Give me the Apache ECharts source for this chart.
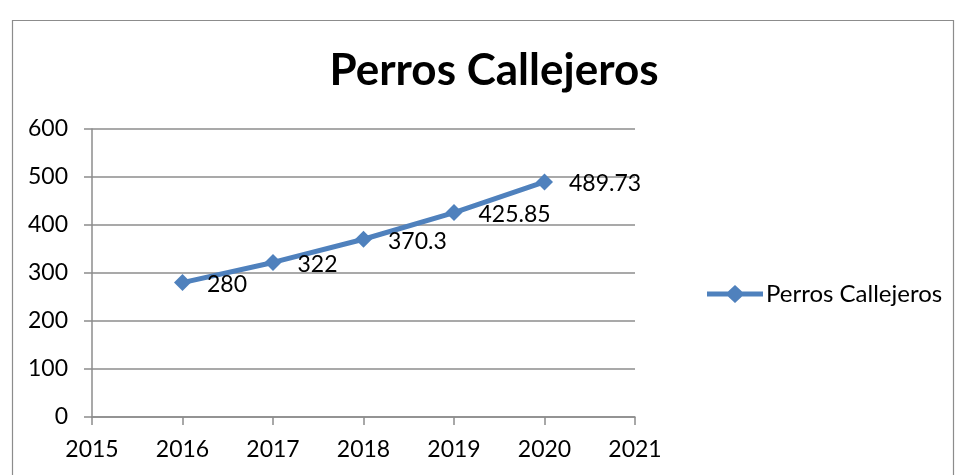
<!DOCTYPE html>
<html><head><meta charset="utf-8">
<script src="https://cdn.jsdelivr.net/npm/echarts@6/dist/echarts.min.js"></script>
<style>html,body{margin:0;padding:0;background:#fff}#c{width:956px;height:475px}</style>
</head><body><div id="c"></div>
<script>
const years = [2016, 2017, 2018, 2019, 2020];
const values = [280, 322, 370.3, 425.85, 489.73];
const seriesName = 'Perros Callejeros';
const titleText = 'Perros Callejeros';
const FONT = 'Lato, "Open Sans", sans-serif';

const chart = echarts.init(document.getElementById('c'));
chart.setOption({
  animation: false,
  backgroundColor: '#fff',
  graphic: [{
    type: 'rect', left: 10, top: 18, shape: { width: 941, height: 470 },
    style: { fill: 'none', stroke: '#8c8c8c', lineWidth: 1.2 }, silent: true
  }],
  title: {
    text: titleText, left: 489, top: 44, textAlign: 'center',
    textStyle: { fontFamily: FONT, fontWeight: 'bold', fontSize: 44, color: '#000' }
  },
  legend: {
    left: 702, top: 277, itemWidth: 56, itemHeight: 18, itemGap: 4,
    icon: 'path://M0,6.5 L21,6.5 L28,0 L35,6.5 L56,6.5 L56,11.5 L35,11.5 L28,18 L21,11.5 L0,11.5 Z',
    textStyle: { fontFamily: FONT, fontSize: 24, color: '#000', padding: [0, 0, 0, -2] },
    data: [seriesName]
  },
  grid: { left: 92, right: 321, top: 129, bottom: 58, containLabel: false },
  xAxis: {
    type: 'value', min: 2015, max: 2021, interval: 1,
    axisLine: { lineStyle: { color: '#8c8c8c', width: 1.5 } },
    axisTick: { show: true, length: 8, lineStyle: { color: '#8c8c8c', width: 1.5 } },
    axisLabel: { fontFamily: FONT, fontSize: 23, color: '#000', margin: 21, formatter: v => String(v) },
    splitLine: { show: false }
  },
  yAxis: {
    type: 'value', min: 0, max: 600, interval: 100,
    axisLine: { show: true, lineStyle: { color: '#8c8c8c', width: 1.5 } },
    axisTick: { show: true, length: 8, lineStyle: { color: '#8c8c8c', width: 1.5 } },
    axisLabel: { fontFamily: FONT, fontSize: 23, color: '#000', margin: 24 },
    splitLine: { show: true, lineStyle: { color: '#8c8c8c', width: 1.5 } }
  },
  series: [{
    name: seriesName, type: 'line',
    data: years.map((y, i) => [y, values[i]]),
    lineStyle: { color: '#4F81BD', width: 5 },
    itemStyle: { color: '#4F81BD' },
    symbol: 'diamond', symbolSize: 17,
    label: {
      show: true, position: 'right', distance: 16, offset: [0, 2],
      fontFamily: FONT, fontSize: 23, color: '#000',
      formatter: p => String(p.value[1])
    }
  }]
});
</script></body></html>
